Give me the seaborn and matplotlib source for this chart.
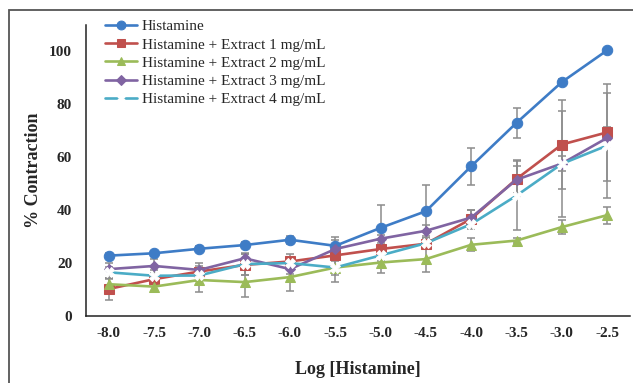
import pandas as pd
import seaborn as sns
import matplotlib.pyplot as plt
from matplotlib.patches import Rectangle

# log concentrations of histamine
log_hist = [-8.0, -7.5, -7.0, -6.5, -6.0, -5.5, -5.0, -4.5, -4.0, -3.5, -3.0, -2.5]

# mean % contraction for each series
histamine = [22.8, 23.7, 25.4, 26.8, 28.8, 26.5, 33.3, 39.6, 56.6, 73.0, 88.4, 100.4]
extract_1 = [10.2, 13.9, 16.8, 19.3, 20.6, 22.9, 25.3, 27.3, 36.7, 51.8, 64.8, 69.4]
extract_2 = [12.0, 11.1, 13.6, 12.8, 14.7, 18.3, 20.2, 21.5, 26.9, 28.5, 33.6, 38.1]
extract_3 = [17.7, 18.9, 17.4, 21.8, 17.7, 25.3, 29.2, 32.2, 37.2, 51.5, 57.6, 67.3]
extract_4 = [16.5, 15.2, 15.3, 19.6, 20.0, 18.3, 22.9, 27.5, 34.7, 45.5, 57.5, 64.4]

# error bars (SEM)
histamine_err = [1.0, 1.0, 1.0, 1.0, 1.5, 3.5, 8.7, 10.0, 7.0, 5.7, 1.0, 0.5]
extract_1_err = [4.2, 1.5, 2.0, 4.0, 3.0, 2.0, 1.5, 1.5, 3.5, 7.0, 17.0, 18.4]
extract_2_err = [2.0, 2.0, 4.5, 5.5, 5.3, 5.5, 4.0, 5.0, 2.5, 1.0, 2.5, 3.2]
extract_3_err = [2.3, 2.5, 2.5, 2.0, 2.0, 3.5, 1.5, 2.0, 3.0, 5.0, 3.0, 4.0]
extract_4_err = [2.0, 2.0, 2.0, 4.0, 2.0, 3.0, 2.0, 2.0, 2.0, 13.0, 20.0, 20.0]

labels = ['Histamine',
          'Histamine + Extract 1 mg/mL',
          'Histamine + Extract 2 mg/mL',
          'Histamine + Extract 3 mg/mL',
          'Histamine + Extract 4 mg/mL']

sns.set_style('white')
plt.rcParams['font.family'] = ['Liberation Serif', 'DejaVu Serif']

fig = plt.figure(figsize=(6.33, 3.83), dpi=100)
ax = fig.add_axes([0.136, 0.175, 0.859, 0.76])

series = [
    (histamine, histamine_err, '#3E7CC6', 'o', 7.5, {}),
    (extract_1, extract_1_err, '#C0504D', 's', 6.5, {}),
    (extract_2, extract_2_err, '#9BBB59', '^', 7, {}),
    (extract_3, extract_3_err, '#8064A2', 'D', 5.5, {}),
    (extract_4, extract_4_err, '#4BACC6', 'X', 7, {'markerfacecolor': 'white', 'markeredgecolor': 'white'}),
]

# error bars first so the lines sit on top
for vals, err, color, marker, ms, extra in series:
    ax.errorbar(log_hist, vals, yerr=err, fmt='none', ecolor='#8c8c8c',
                elinewidth=1.1, capsize=3, capthick=1.1, zorder=1)

for (vals, err, color, marker, ms, extra), lab in zip(series, labels):
    data = pd.DataFrame({'Log': log_hist, 'Contraction': vals})
    sns.lineplot(data=data, x='Log', y='Contraction', ax=ax, color=color,
                 marker=marker, markersize=ms, linewidth=1.9, label=lab,
                 markeredgecolor=extra.get('markeredgecolor', color),
                 markerfacecolor=extra.get('markerfacecolor', color),
                 zorder=3)

ax.set_xlim(-8.25, -2.25)
ax.set_ylim(0, 110)
ax.set_xticks(log_hist)
ax.set_xticklabels(['%.1f' % v for v in log_hist])
ax.set_yticks([0, 20, 40, 60, 80, 100])
ax.tick_params(axis='both', length=0, labelsize=11, pad=8)
for t in ax.get_xticklabels() + ax.get_yticklabels():
    t.set_fontweight('bold')
ax.tick_params(axis='y', pad=10)

for side in ['top', 'right']:
    ax.spines[side].set_visible(False)
for side in ['left', 'bottom']:
    ax.spines[side].set_color('#222222')
    ax.spines[side].set_linewidth(1.1)

ax.set_xlabel('Log [Histamine]', fontsize=13, fontweight='bold', labelpad=15)
ax.set_ylabel('% Contraction', fontsize=13, fontweight='bold', labelpad=5)

leg = ax.legend(loc='upper left', bbox_to_anchor=(0.015, 1.055), frameon=False,
                fontsize=11, labelspacing=0.3, handlelength=2.1,
                handletextpad=0.3, borderpad=0.2, markerscale=0.85)

# outer frame of the figure, cut at right and bottom
fig.patches.append(Rectangle((9 / 633, -0.1), 1.2, 1.1 - 10 / 383,
                             transform=fig.transFigure, fill=False,
                             edgecolor='#555555', linewidth=1.3))

fig.savefig('out.png', dpi=100)
